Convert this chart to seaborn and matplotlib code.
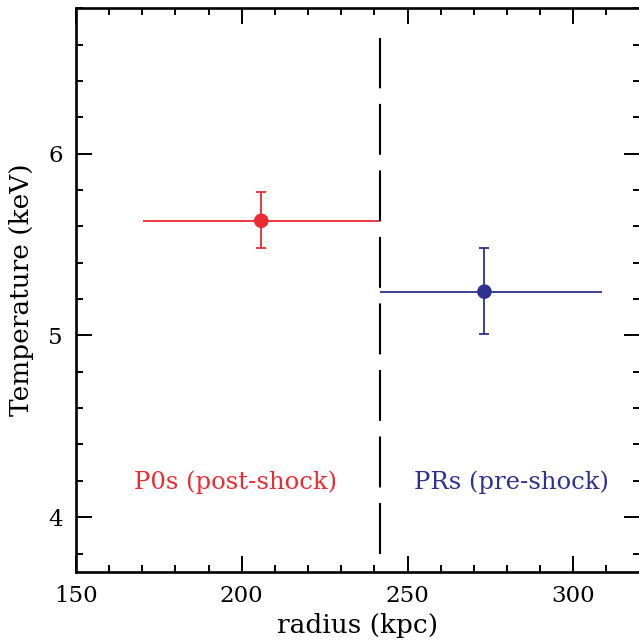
import matplotlib
matplotlib.use("Agg")
import matplotlib.pyplot as plt
from matplotlib.ticker import MultipleLocator
import seaborn as sns
import pandas as pd

# ---- data ----
regions = ["P0s (post-shock)", "PRs (pre-shock)"]
radius = [205.9, 273.2]
radius_lo = [170.1, 241.7]
radius_hi = [241.5, 308.7]
temperature = [5.631, 5.241]
temp_lo = [5.479, 5.010]
temp_hi = [5.790, 5.479]
colors = ["#EC2A2F", "#2E3192"]
label_x = [198.0, 281.4]
label_y = [4.19, 4.19]
shock_radius = 241.6
shock_T_range = [3.797, 6.637]

xlim = (150, 320)
ylim = (3.7, 6.8)

df = pd.DataFrame({"region": regions, "radius": radius, "T": temperature})

sns.set_style("ticks")
plt.rcParams["font.family"] = ["DejaVu Serif"]
plt.rcParams["lines.scale_dashes"] = False
plt.rcParams["text.color"] = "black"
plt.rcParams["axes.labelcolor"] = "black"

fig = plt.figure(figsize=(6.39, 6.40), dpi=100)
ax = fig.add_axes([0.1188, 0.1067, 0.8822, 0.8803])

for i in range(len(regions)):
    ax.errorbar(radius[i], temperature[i],
                xerr=[[radius[i] - radius_lo[i]], [radius_hi[i] - radius[i]]],
                fmt="none", ecolor=colors[i], elinewidth=1.3, capsize=0, zorder=2)
    ax.errorbar(radius[i], temperature[i],
                yerr=[[temperature[i] - temp_lo[i]], [temp_hi[i] - temperature[i]]],
                fmt="none", ecolor=colors[i], elinewidth=1.3, capsize=3.5,
                capthick=1.3, zorder=2)

sns.scatterplot(data=df, x="radius", y="T", hue="region", palette=colors,
                s=110, edgecolor="none", legend=False, ax=ax, zorder=3)

# shock position
ax.axvline(shock_radius,
           ymin=(shock_T_range[0] - ylim[0]) / (ylim[1] - ylim[0]),
           ymax=(shock_T_range[1] - ylim[0]) / (ylim[1] - ylim[0]),
           color="black", lw=1.5, linestyle=(0, (36.7, 11.2)), zorder=1)

for i in range(len(regions)):
    ax.text(label_x[i], label_y[i], regions[i], color=colors[i],
            ha="center", va="center", fontsize=17.5)

ax.set_xlim(*xlim)
ax.set_ylim(*ylim)
ax.xaxis.set_major_locator(MultipleLocator(50))
ax.xaxis.set_minor_locator(MultipleLocator(10))
ax.yaxis.set_major_locator(MultipleLocator(1))
ax.yaxis.set_minor_locator(MultipleLocator(0.2))
ax.tick_params(which="both", direction="in", top=True, right=True,
               width=1.4, colors="black", labelsize=16.5)
ax.tick_params(which="major", length=11.3, pad=9.5)
ax.tick_params(which="minor", length=5.3)
for s in ax.spines.values():
    s.set_linewidth(1.9)
    s.set_color("black")
    s.set_visible(True)

ax.set_xlabel("radius (kpc)", fontsize=19, labelpad=4.5, color="black")
ax.set_ylabel("Temperature (keV)", fontsize=19, labelpad=10, color="black")

fig.savefig("out.png", dpi=100)
